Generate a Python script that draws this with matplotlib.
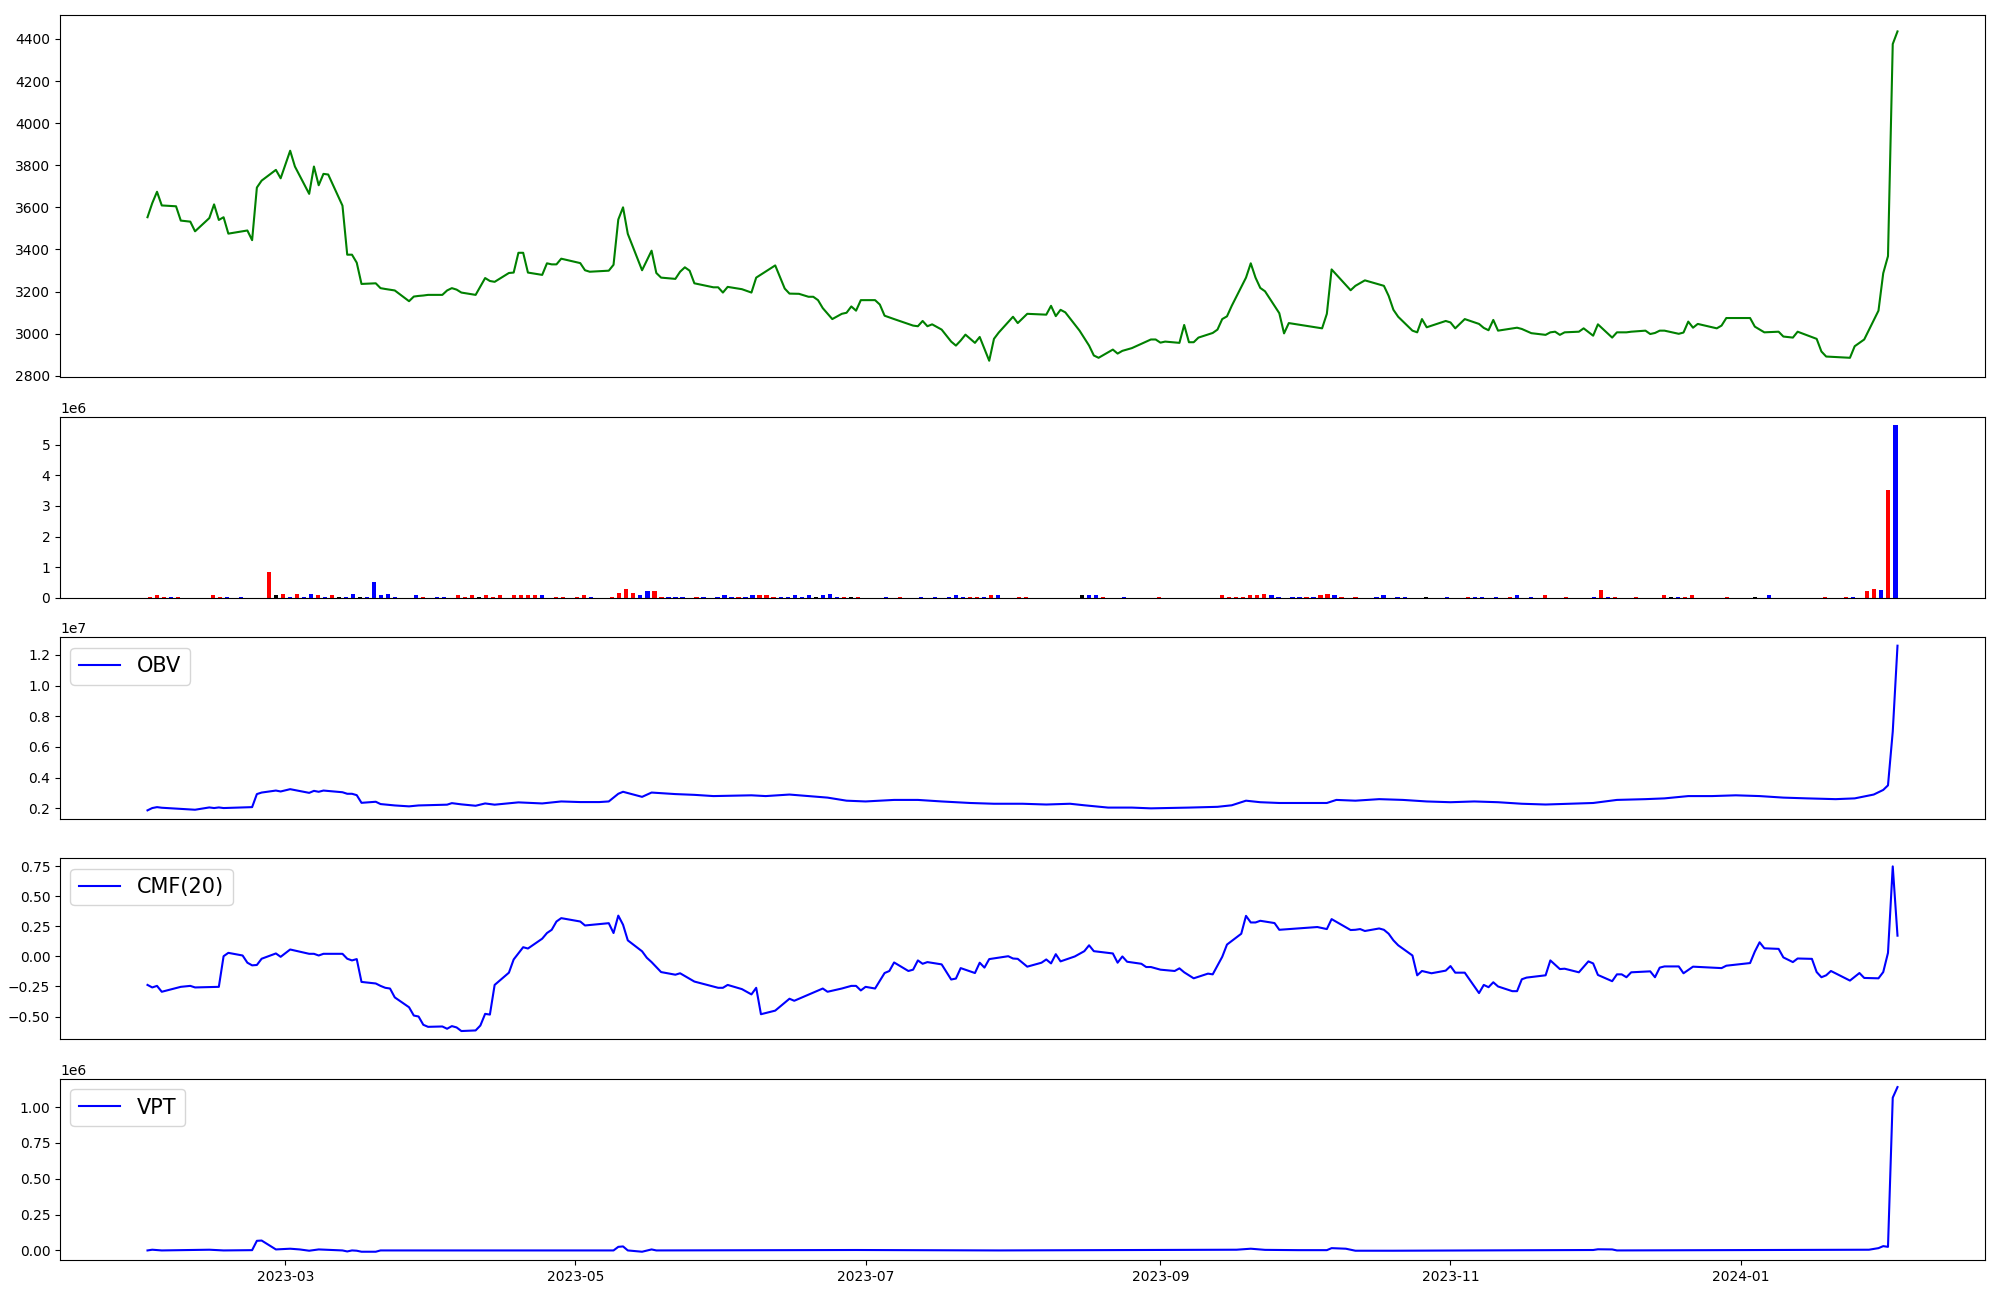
import numpy as np
import matplotlib
matplotlib.use("Agg")
import matplotlib.pyplot as plt
import matplotlib.dates as mdates
from matplotlib.ticker import MultipleLocator

# x positions of the line charts: days counted from 2023-03-01
BASE = np.datetime64("2023-03-01")

# closing price (green line)
price_day = [-29, -28, -27, -26, -23, -22, -20, -19, -16, -15, -14, -13, -12, -8, -7, -6, -5, -2, -1,
             1, 2, 5, 6, 7, 8, 9, 12, 13, 14, 15, 16, 19, 20, 21, 23, 26, 27, 28, 29, 30, 33, 34, 35,
             36, 37, 40, 42, 43, 44, 47, 48, 49, 50, 51, 54, 55, 56, 57, 58, 62, 63, 64, 68, 69, 70,
             71, 72, 75, 77, 78, 79, 82, 83, 84, 85, 86, 90, 91, 92, 93, 96, 98, 99, 103, 105, 106,
             108, 110, 111, 112, 113, 115, 117, 118, 119, 120, 121, 124, 125, 126, 128, 132, 133,
             134, 135, 136, 138, 140, 141, 142, 143, 145, 146, 148, 149, 150, 153, 154, 156, 160,
             161, 162, 163, 164, 167, 169, 170, 171, 174, 175, 176, 178, 182, 183, 184, 185, 188,
             189, 190, 191, 192, 195, 196, 197, 198, 199, 202, 203, 204, 205, 206, 209, 210, 211,
             218, 219, 220, 224, 225, 227, 231, 232, 233, 234, 237, 238, 239, 240, 244, 245, 246,
             248, 251, 252, 253, 254, 255, 259, 260, 262, 265, 266, 267, 268, 269, 272, 273, 275,
             276, 279, 280, 282, 283, 286, 287, 288, 289, 290, 293, 294, 295, 296, 297, 301, 302,
             303, 308, 309, 311, 314, 315, 317, 318, 322, 323, 324, 329, 330, 332, 335, 336, 337,
             338, 339]
price = [3553, 3620, 3674, 3609, 3605, 3537, 3532, 3486, 3549, 3614, 3540, 3553, 3475, 3490, 3444,
         3694, 3727, 3778, 3738, 3869, 3794, 3664, 3794, 3705, 3759, 3756, 3608, 3375, 3375, 3337,
         3236, 3239, 3216, 3212, 3205, 3154, 3176, 3179, 3181, 3184, 3184, 3205, 3216, 3209, 3195,
         3184, 3264, 3250, 3246, 3288, 3290, 3384, 3384, 3290, 3279, 3334, 3329, 3329, 3356, 3335,
         3301, 3294, 3299, 3327, 3542, 3600, 3474, 3301, 3394, 3288, 3266, 3260, 3294, 3315, 3299,
         3239, 3220, 3220, 3195, 3222, 3211, 3195, 3266, 3324, 3214, 3190, 3189, 3175, 3175, 3159,
         3121, 3069, 3094, 3099, 3129, 3109, 3159, 3159, 3138, 3085, 3069, 3038, 3035, 3060, 3035,
         3044, 3019, 2962, 2943, 2967, 2995, 2956, 2984, 2871, 2975, 3005, 3080, 3050, 3094, 3090,
         3132, 3083, 3113, 3101, 3014, 2943, 2896, 2885, 2924, 2905, 2918, 2931, 2972, 2972, 2957,
         2962, 2956, 3041, 2959, 2959, 2981, 3003, 3019, 3069, 3082, 3132, 3266, 3334, 3266, 3217,
         3201, 3097, 3001, 3050, 3025, 3094, 3305, 3206, 3227, 3253, 3227, 3179, 3113, 3080, 3014,
         3006, 3069, 3030, 3060, 3053, 3025, 3069, 3046, 3027, 3016, 3065, 3014, 3028, 3022, 3002,
         2994, 3006, 3009, 2994, 3006, 3009, 3025, 2990, 3044, 2981, 3006, 3006, 3009, 3014, 2998,
         3003, 3014, 3014, 2999, 3005, 3057, 3028, 3046, 3025, 3038, 3074, 3074, 3033, 3006, 3009,
         2986, 2981, 3009, 2975, 2915, 2891, 2885, 2940, 2972, 3109, 3287, 3368, 4376, 4436]

# volume bars (millions) by trading-day number; r = up, b = down, k = flat
vol_idx = [0, 1, 2, 3, 4, 9, 10, 11, 13, 17,
           18, 19, 20, 21, 22, 23, 24, 25, 26, 27,
           28, 29, 30, 31, 32, 33, 34, 35, 38, 39,
           41, 42, 44, 45, 46, 47, 48, 49, 50, 52,
           53, 54, 55, 56, 58, 59, 61, 62, 63, 66,
           67, 68, 69, 70, 71, 72, 73, 74, 75, 76,
           78, 79, 81, 82, 83, 84, 85, 86, 87, 88,
           89, 90, 91, 92, 93, 94, 95, 96, 97, 98,
           99, 100, 101, 105, 107, 110, 112, 114, 115, 116,
           117, 118, 119, 120, 121, 124, 125, 133, 134, 135,
           136, 139, 144, 153, 154, 155, 156, 157, 158, 159,
           160, 161, 163, 164, 165, 166, 167, 168, 169, 170,
           172, 175, 176, 178, 179, 182, 185, 188, 189, 190,
           192, 194, 195, 197, 199, 202, 206, 207, 208, 209,
           212, 216, 217, 218, 219, 220, 225, 229, 231, 239,
           242, 243, 245, 246, 247, 248, 249]
vol_val = [.04, .11, .04, .04, .04, .08, .04, .04, .04, .85,
           .11, .14, .04, .14, .04, .14, .11, .04, .08, .04,
           .04, .14, .04, .04, .53, .08, .14, .04, .08, .04,
           .04, .04, .08, .04, .08, .04, .08, .04, .11, .08,
           .08, .08, .08, .08, .04, .04, .04, .08, .04, .04,
           .17, .30, .17, .11, .21, .21, .04, .04, .04, .04,
           .04, .04, .04, .08, .04, .04, .04, .11, .11, .08,
           .04, .04, .04, .08, .04, .08, .04, .08, .14, .04,
           .04, .04, .04, .04, .04, .04, .04, .04, .08, .04,
           .04, .04, .04, .08, .08, .04, .04, .08, .08, .11,
           .04, .04, .04, .08, .04, .04, .04, .08, .11, .14,
           .08, .04, .04, .04, .04, .04, .08, .14, .08, .04,
           .04, .04, .08, .04, .04, .04, .04, .04, .04, .04,
           .04, .04, .08, .04, .08, .04, .04, .27, .04, .04,
           .04, .11, .04, .04, .04, .08, .04, .04, .08, .04,
           .04, .04, .24, .30, .27, 3.52, 5.63]
vol_col = ["rrrbrrrbbr", "krbrbbrbrk", "bbkbbbbbbr", "bbrrrkrrrr", "rrrbrrrrbr",
           "rrrbbrrbbb", "rbbbbrbbrr", "rbbbbbkbbb", "rkrbrbbbbb", "rrbrbrrkbb",
           "rbrrrrrrrr", "bbbbrbrrbr", "rbbbbkbrbb", "brbbrrbrbr", "rrkbrrrkbr",
           "rbrrbrb"]

# On Balance Volume (millions)
obv_day = [-29, -28, -27, -26, -19, -16, -15, -14, -13, -7, -6, -5, -2, -1, 1, 5, 6, 7, 8, 12, 13,
           14, 15, 16, 19, 20, 23, 26, 28, 34, 35, 37, 40, 42, 44, 49, 54, 58, 62, 66, 68, 70, 71,
           75, 77, 80, 82, 86, 90, 98, 101, 106, 112, 114, 118, 122, 128, 133, 138, 144, 149, 155,
           160, 165, 168, 173, 178, 182, 190, 196, 199, 202, 205, 209, 216, 219, 221, 225, 230,
           235, 240, 245, 250, 255, 260, 265, 270, 275, 280, 286, 290, 295, 300, 305, 310, 315,
           320, 326, 330, 334, 336, 337, 338, 339]
obv = [1.87, 2.02, 2.08, 2.04, 1.91, 2.06, 2.02, 2.06, 2.02, 2.08, 2.93, 3.03, 3.16, 3.10, 3.25,
       3.01, 3.14, 3.08, 3.16, 3.05, 2.95, 2.95, 2.86, 2.36, 2.43, 2.28, 2.19, 2.13, 2.19, 2.24,
       2.34, 2.26, 2.17, 2.32, 2.24, 2.39, 2.32, 2.45, 2.41, 2.41, 2.45, 2.95, 3.08, 2.75, 3.03,
       2.97, 2.93, 2.88, 2.8, 2.85, 2.8, 2.9, 2.75, 2.7, 2.5, 2.45, 2.55, 2.55, 2.45, 2.35, 2.3,
       2.3, 2.25, 2.3, 2.2, 2.05, 2.05, 2.0, 2.05, 2.1, 2.2, 2.5, 2.4, 2.35, 2.35, 2.35, 2.55,
       2.5, 2.6, 2.55, 2.45, 2.4, 2.45, 2.4, 2.3, 2.25, 2.3, 2.35, 2.55, 2.6, 2.65, 2.8, 2.8,
       2.85, 2.8, 2.7, 2.65, 2.6, 2.65, 2.9, 3.2, 3.5, 7.0, 12.6]

# Chaikin Money Flow, 20 days
cmf_day = [-29, -28, -27, -26, -22, -20, -19, -14, -13, -12, -9, -8, -7, -6, -5, -2, -1, 1, 5, 6, 7,
           8, 12, 13, 14, 15, 16, 19, 20, 21, 22, 23, 26, 27, 28, 29, 30, 33, 34, 35, 36, 37, 40,
           41, 42, 43, 44, 47, 48, 50, 51, 54, 55, 56, 57, 58, 62, 63, 68, 69, 70, 71, 72, 75, 76,
           77, 79, 82, 83, 86, 91, 92, 93, 96, 98, 99, 100, 103, 106, 107, 113, 114, 117, 119, 120,
           121, 122, 124, 126, 127, 128, 131, 132, 133, 134, 135, 138, 140, 141, 142, 145, 146,
           147, 148, 152, 153, 154, 155, 156, 159, 160, 161, 162, 163, 166, 168, 169, 170, 174,
           175, 176, 177, 180, 181, 182, 184, 187, 188, 189, 191, 194, 195, 197, 198, 201, 202,
           203, 204, 205, 208, 209, 217, 219, 220, 224, 225, 226, 227, 230, 231, 232, 233, 234,
           237, 238, 239, 241, 244, 245, 246, 248, 251, 252, 253, 254, 255, 258, 259, 260, 261,
           265, 266, 268, 269, 272, 274, 275, 276, 279, 280, 281, 282, 283, 287, 288, 289, 290,
           293, 294, 296, 302, 303, 308, 309, 310, 311, 314, 315, 317, 318, 321, 322, 323, 324,
           325, 329, 331, 332, 335, 336, 337, 338, 339]
cmf = [-0.237, -0.258, -0.245, -0.294, -0.253, -0.245, -0.258, -0.253, 0.002, 0.030, 0.008, -0.052,
       -0.074, -0.071, -0.019, 0.025, -0.003, 0.058, 0.022, 0.022, 0.008, 0.022, 0.022, -0.019,
       -0.033, -0.022, -0.212, -0.225, -0.245, -0.261, -0.267, -0.341, -0.423, -0.492, -0.500,
       -0.569, -0.586, -0.583, -0.602, -0.580, -0.591, -0.621, -0.616, -0.575, -0.478, -0.484,
       -0.237, -0.135, -0.025, 0.077, 0.066, 0.148, 0.195, 0.222, 0.291, 0.319, 0.291, 0.258,
       0.277, 0.195, 0.340, 0.264, 0.134, 0.043, -0.011, -0.047, -0.130, -0.152, -0.140, -0.209,
       -0.261, -0.261, -0.237, -0.272, -0.316, -0.261, -0.481, -0.451, -0.352, -0.369, -0.267,
       -0.294, -0.267, -0.245, -0.245, -0.283, -0.253, -0.267, -0.138, -0.121, -0.050, -0.121,
       -0.110, -0.033, -0.061, -0.047, -0.066, -0.192, -0.184, -0.097, -0.138, -0.052, -0.093,
       -0.022, 0.002, -0.017, -0.020, -0.052, -0.085, -0.052, -0.025, -0.058, 0.019, -0.041,
       0.000, 0.044, 0.093, 0.044, 0.025, -0.052, 0.000, -0.044, -0.061, -0.088, -0.088, -0.110,
       -0.121, -0.099, -0.132, -0.182, -0.143, -0.149, -0.003, 0.099, 0.189, 0.338, 0.283, 0.283,
       0.297, 0.278, 0.222, 0.245, 0.228, 0.311, 0.220, 0.222, 0.228, 0.212, 0.233, 0.222, 0.189,
       0.134, 0.093, 0.008, -0.157, -0.121, -0.140, -0.118, -0.080, -0.135, -0.135, -0.305,
       -0.237, -0.256, -0.215, -0.250, -0.289, -0.289, -0.190, -0.176, -0.157, -0.033, -0.105,
       -0.102, -0.132, -0.041, -0.058, -0.154, -0.206, -0.149, -0.149, -0.173, -0.132, -0.124,
       -0.173, -0.093, -0.083, -0.083, -0.140, -0.085, -0.097, -0.077, -0.055, 0.041, 0.118,
       0.068, 0.063, -0.008, -0.047, -0.017, -0.020, -0.130, -0.173, -0.157, -0.121, -0.201,
       -0.138, -0.179, -0.182, -0.130, 0.030, 0.750, 0.173]

# Volume Price Trend (millions)
vpt_day = [-29, -28, -26, -16, -13, -7, -6, -5, -2, 1, 3, 5, 7, 12, 13, 14, 15, 16, 19, 20, 69, 70,
           71, 72, 75, 77, 78, 120, 150, 200, 203, 206, 213, 219, 220, 223, 225, 233, 275, 276,
           279, 280, 333, 335, 336, 337, 338, 339]
vpt = [0.0, 0.005, 0.0, 0.005, 0.0, 0.002, 0.067, 0.069, 0.007, 0.012, 0.007, -0.002, 0.007, 0.0,
       -0.007, 0.0, -0.002, -0.009, -0.009, 0.0, 0.0, 0.025, 0.028, 0.0, -0.009, 0.007, 0.0, 0.003,
       0.0, 0.005, 0.012, 0.004, 0.002, 0.002, 0.016, 0.012, -0.002, -0.002, 0.003, 0.008, 0.007,
       0.0, 0.005, 0.016, 0.030, 0.025, 1.065, 1.139]

colour_map = {"r": "red", "b": "blue", "k": "black"}


def to_dates(days):
    return BASE + np.array(days, dtype="timedelta64[D]")


fig = plt.figure(figsize=(20, 13), dpi=100)
gs = fig.add_gridspec(5, 1, height_ratios=[2, 1, 1, 1, 1], left=0.03, right=0.9925,
                      top=0.9885, bottom=0.0308, hspace=0.182)
ax_vpt = fig.add_subplot(gs[4])
ax_price = fig.add_subplot(gs[0], sharex=ax_vpt)
ax_vol = fig.add_subplot(gs[1])
ax_obv = fig.add_subplot(gs[2], sharex=ax_vpt)
ax_cmf = fig.add_subplot(gs[3], sharex=ax_vpt)

# 价格
ax_price.plot(to_dates(price_day), price, color="green")

# 成交量
bar_colours = [colour_map[c] for c in "".join(vol_col)]
ax_vol.bar(vol_idx, np.array(vol_val) * 1e6, width=0.6, color=bar_colours)
ax_vol.set_xticks([])

# 指标
ax_obv.plot(to_dates(obv_day), np.array(obv) * 1e6, color="blue", label="OBV")
ax_cmf.plot(to_dates(cmf_day), cmf, color="blue", label="CMF(20)")
ax_vpt.plot(to_dates(vpt_day), np.array(vpt) * 1e6, color="blue", label="VPT")
for ax in (ax_obv, ax_cmf, ax_vpt):
    ax.legend(loc="upper left", fontsize=15)

ax_cmf.yaxis.set_major_locator(MultipleLocator(0.25))

for ax in (ax_price, ax_obv, ax_cmf):
    ax.tick_params(axis="x", bottom=False, labelbottom=False)

ax_vpt.xaxis.set_major_locator(mdates.MonthLocator(bymonth=[1, 3, 5, 7, 9, 11]))
ax_vpt.xaxis.set_major_formatter(mdates.DateFormatter("%Y-%m"))

fig.savefig("out.png")
